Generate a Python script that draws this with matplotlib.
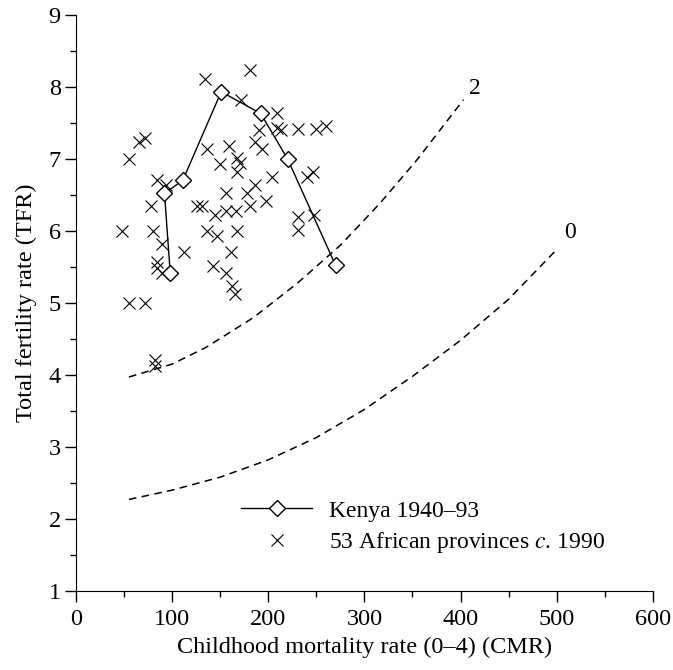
import matplotlib.pyplot as plt

plt.rcParams['font.family'] = ['Liberation Serif', 'DejaVu Serif']
plt.rcParams['mathtext.fontset'] = 'stix'

# Kenya 1940-93 trajectory
kenya_cmr = [98, 92, 111, 151, 192, 220, 270]
kenya_tfr = [5.41, 6.52, 6.70, 7.93, 7.63, 7.00, 5.52]

# African provinces c. 1990
prov_cmr = [55, 65, 72, 84, 94, 78, 48, 80, 89, 112, 84, 84, 89, 55, 72, 82, 82,
            134, 181, 172, 209, 190, 209, 213, 231, 250, 260, 136, 159, 186, 193,
            150, 167, 171, 167, 204, 186, 178, 156, 198, 181, 126, 131, 145, 156,
            166, 136, 147, 167, 161, 142, 156, 162, 165, 240, 247, 231, 248, 231]
prov_tfr = [7.00, 7.23, 7.29, 6.71, 6.63, 6.34, 6.00, 6.00, 5.81, 5.70, 5.57, 5.48,
            5.41, 5.00, 5.00, 4.21, 4.12, 8.11, 8.23, 7.82, 7.63, 7.40, 7.43, 7.40,
            7.42, 7.42, 7.45, 7.13, 7.18, 7.23, 7.13, 6.93, 7.01, 6.94, 6.81, 6.75,
            6.64, 6.52, 6.52, 6.41, 6.34, 6.34, 6.34, 6.22, 6.27, 6.27, 6.00, 5.93,
            6.00, 5.71, 5.51, 5.41, 5.23, 5.12, 6.75, 6.81, 6.19, 6.22, 6.01]

# dashed reference curves
curve2_cmr = [55, 100, 135, 185, 230, 275, 316, 355, 403]
curve2_tfr = [3.97, 4.15, 4.38, 4.80, 5.27, 5.80, 6.38, 6.99, 7.82]
curve0_cmr = [55, 100, 150, 200, 250, 300, 350, 400, 450, 500]
curve0_tfr = [2.27, 2.40, 2.58, 2.82, 3.13, 3.52, 3.98, 4.48, 5.05, 5.74]

fig = plt.figure(figsize=(6.73, 6.70), dpi=100)
ax = fig.add_axes([0.113, 0.118, 0.857, 0.860])

ax.plot(curve2_cmr, curve2_tfr, color='black', lw=1.1, linestyle=(0, (5, 3.5)))
ax.plot(curve0_cmr, curve0_tfr, color='black', lw=1.1, linestyle=(0, (5, 3.5)))
ax.text(415, 7.98, '2', fontsize=17, ha='center', va='center')
ax.text(514, 5.97, '0', fontsize=17, ha='center', va='center')

ax.plot(prov_cmr, prov_tfr, linestyle='none', marker='x', ms=8.5, mew=0.8,
        color='black', label='53 African provinces $c$. 1990', zorder=3)
ax.plot(kenya_cmr, kenya_tfr, color='black', lw=1.0, marker='D', ms=8.5,
        mfc='white', mec='black', mew=1.0, label='Kenya 1940–93', zorder=4)

h, l = ax.get_legend_handles_labels()
ax.legend([h[1], h[0]], [l[1], l[0]], loc='center left', bbox_to_anchor=(0.25, 0.11),
          frameon=False, fontsize=17, handlelength=3.0, handletextpad=0.7,
          labelspacing=0.35)

ax.set_xlim(0, 600)
ax.set_ylim(1, 9)
ax.set_xticks(range(0, 601, 100))
ax.set_xticks(range(50, 600, 100), minor=True)
ax.set_yticks(range(1, 10))
ax.set_yticks([1.5 + i for i in range(8)], minor=True)
ax.tick_params(which='major', direction='out', length=8, width=1, labelsize=17.5)
ax.tick_params(which='minor', direction='out', length=4, width=1)
ax.tick_params(axis='x', which='major', pad=5)
ax.tick_params(axis='y', which='major', pad=3)
ax.spines['top'].set_visible(False)
ax.spines['right'].set_visible(False)
ax.set_xlabel('Childhood mortality rate (0–4) (CMR)', fontsize=17.5, labelpad=5)
ax.set_ylabel('Total fertility rate (TFR)', fontsize=17.5, labelpad=8)

fig.savefig('out.png', dpi=100)
